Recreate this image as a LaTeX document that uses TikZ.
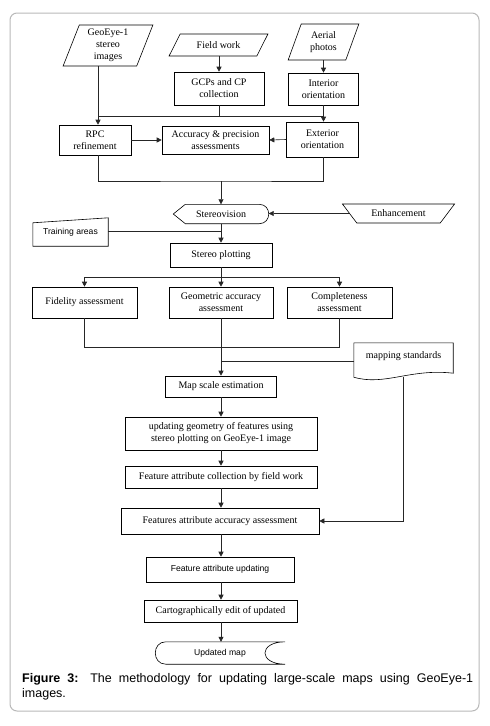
\documentclass[tikz,border=0pt]{standalone}
\usepackage{fontspec}
\setmainfont{Liberation Serif}
\newfontfamily\sansf{Liberation Sans}
\usetikzlibrary{shapes.geometric,arrows.meta,calc}
\begin{document}
\begin{tikzpicture}[x=1pt,y=-1pt,
  box/.style={draw, line width=0.6pt, align=center, inner sep=1pt, font=\fontsize{10}{12}\selectfont},
  plain/.style={align=center, inner sep=1pt, font=\fontsize{10}{12}\selectfont},
  para/.style={box, trapezium, trapezium stretches=true},
  ln/.style={line width=0.6pt, black!85},
  arr/.style={line width=0.6pt, black!85, -{Triangle[length=5pt,width=5pt]}},
  sml/.style={font=\sansf\fontsize{8.6}{10}\selectfont}]
\useasboundingbox (0,0) rectangle (490,726);
\fill[white] (0,0) rectangle (490,726);
\draw[gray!55, line width=1pt, rounded corners=7pt] (10,13) rectangle (479,711);

% inputs
\node[para, minimum width=90pt, minimum height=41pt, trapezium left angle=71, trapezium right angle=109] (geo) at (108,45.5) {GeoEye-1\\stereo\\images};
\node[para, minimum width=99pt, minimum height=22pt, trapezium left angle=54, trapezium right angle=126] (fw) at (218.5,45) {Field work};
\node[para, minimum width=71pt, minimum height=36pt, trapezium left angle=70, trapezium right angle=110] (ap) at (323.5,42) {Aerial\\photos};

\node[box, minimum width=90pt, minimum height=33pt] (gcp) at (219,88.5) {GCPs and CP\\collection};
\node[box, minimum width=70pt, minimum height=32pt] (io) at (323.5,89) {Interior\\orientation};
\node[box, minimum width=72pt, minimum height=30pt] (rpc) at (95,140) {RPC\\refinement};
\node[box, minimum width=107pt, minimum height=28pt] (acc) at (215.5,140) {Accuracy \& precision\\assessments};
\node[box, minimum width=72pt, minimum height=35pt] (eo) at (322.5,139.5) {Exterior\\orientation};

% stereovision (display shape)
\node[plain, minimum width=95pt, minimum height=19pt] (sv) at (221,214) {Stereovision};
\draw[line width=0.6pt] (sv.west) -- ([xshift=12pt]sv.north west) -- ([xshift=-9.5pt]sv.north east)
  .. controls ([xshift=3.2pt]sv.north east) and ([xshift=3.2pt]sv.south east) .. ([xshift=-9.5pt]sv.south east)
  -- ([xshift=12pt]sv.south west) -- cycle;

\node[para, minimum width=113pt, minimum height=19pt, trapezium left angle=137, trapezium right angle=137] (enh) at (398.5,213.5) {Enhancement};

% training areas (manual input)
\node[sml, inner sep=1pt, minimum width=75pt, minimum height=28pt] (tr) at (70.5,232) {Training areas};
\draw[line width=0.6pt] (tr.south west) -- ([yshift=-5pt]tr.north west) -- (tr.north east) -- (tr.south east) -- cycle;

\node[box, minimum width=102pt, minimum height=24pt] (sp) at (221,255) {Stereo plotting};
\node[box, minimum width=105pt, minimum height=31pt] (fid) at (84.5,302.5) {Fidelity assessment};
\node[box, minimum width=104pt, minimum height=31pt] (geom) at (221,302.5) {Geometric accuracy\\assessment};
\node[box, minimum width=105pt, minimum height=31pt] (comp) at (339.5,302.5) {Completeness\\assessment};

% mapping standards (document)
\node[plain, minimum width=99pt, minimum height=26pt] (ms) at (403.5,356) {mapping standards};
\draw[line width=0.6pt] (ms.north west) -- (ms.north east) -- ([yshift=-4pt]ms.south east)
  .. controls ([xshift=-43pt,yshift=1pt]ms.south east) and ([xshift=31pt,yshift=-17pt]ms.south west) .. ([yshift=-8pt]ms.south west) -- cycle;

\node[box, minimum width=111pt, minimum height=21pt] (mse) at (221,386.5) {Map scale estimation};
\node[box, minimum width=192pt, minimum height=33pt] (ug) at (221,433.5) {updating geometry of features using\\stereo plotting on GeoEye-1 image};
\node[box, minimum width=192pt, minimum height=22pt] (fac) at (221,477) {Feature attribute collection by field work};
\node[box, minimum width=198pt, minimum height=26pt] (faa) at (220,521) {Features attribute accuracy assessment};
\node[box, sml, minimum width=148pt, minimum height=25pt] (fau) at (220,569.5) {Feature attribute updating};
\node[box, minimum width=153pt, minimum height=22pt] (ce) at (220.5,611) {Cartographically edit of updated};

% updated map (stored data)
\node[sml, inner sep=1pt, minimum width=130pt, minimum height=22pt] (um) at (220,653) {Updated map};
\draw[line width=0.6pt] ([xshift=11pt]um.north west) -- (um.north east)
  .. controls ([xshift=-27pt]um.north east) and ([xshift=-27pt]um.south east) .. (um.south east)
  -- ([xshift=11pt]um.south west)
  .. controls ([xshift=-3pt]um.south west) and ([xshift=-3pt]um.north west) .. ([xshift=11pt]um.north west) -- cycle;

% connectors
\coordinate (jt) at (219,116);
\coordinate (jb) at (221,181);
\coordinate (js) at (221,277);
\coordinate (jf) at (221,347);
\draw[arr] ([xshift=3pt]rpc.north |- geo.south) -- ([xshift=3pt]rpc.north);
\draw[arr] (gcp.north |- fw.south) -- (gcp.north);
\draw[arr] (io.north |- ap.south) -- (io.north);
\draw[ln] (gcp.south) -- (jt);
\draw[ln] ([xshift=3pt]rpc.north |- jt) -- (io.south |- jt);
\draw[arr] (io.south) -- (io.south |- eo.north);
\draw[arr] (rpc.east) -- (acc.west);
\draw[arr] (eo.west) -- (acc.east);
\draw[ln] ([xshift=3pt]rpc.south) |- (jb) -| (io.south |- eo.south);
\draw[arr] (jb) -- (sv.north);
\draw[arr] (enh.west) -- (enh.west -| sv.east);
\draw[ln] ([yshift=1pt]tr.east) -- ([yshift=1pt]tr.east -| sv.south);
\draw[arr] (sv.south) -- (sp.north);
\draw[ln] (sp.south) -- (js);
\draw[arr] (js) -| (fid.north);
\draw[arr] (js) -| (comp.north);
\draw[arr] (js) -- (geom.north);
\draw[ln] (fid.south) |- (comp.south |- jf) -- (comp.south);
\draw[arr] (geom.south) -- (mse.north);
\draw[ln] ([yshift=-5pt]ms.west) -- ([yshift=-5pt]ms.west -| geom.south);
\draw[arr] ([yshift=-8pt]ms.south) |- (faa.east);
\draw[arr] (mse.south) -- (mse.south |- ug.north);
\draw[arr] (ug.south) -- (ug.south |- fac.north);
\draw[arr] (fac.south) -- (fac.south |- faa.north);
\draw[arr] ([xshift=1pt]faa.south) -- ([xshift=1pt]faa.south |- fau.north);
\draw[arr] ([xshift=1pt]fau.south) -- ([xshift=1pt]fau.south |- ce.north);
\draw[arr] ([xshift=0.5pt]ce.south) -- ([xshift=0.5pt]ce.south |- um.north);

% caption
\node[anchor=north west, text width=451pt, align=justify, inner sep=0pt,
  font=\sansf\fontsize{12.5}{15}\selectfont] (cap) at (22,673.5)
  {\textbf{Figure 3:} The methodology for updating large-scale maps using GeoEye-1\linebreak images.};
\end{tikzpicture}
\end{document}
